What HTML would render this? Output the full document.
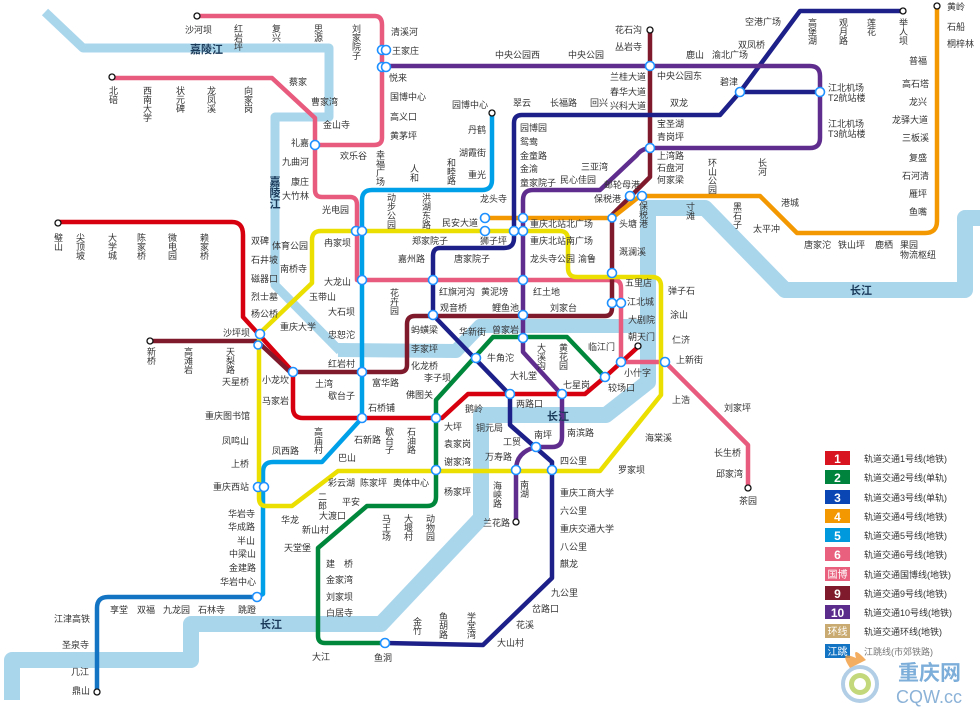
<!DOCTYPE html>
<html><head><meta charset="utf-8">
<style>
html,body{margin:0;padding:0;background:#fff;}
svg{display:block;}
text{font-family:"Liberation Sans","Noto Sans CJK SC",sans-serif;font-size:9px;fill:#333;}
.v{writing-mode:vertical-rl;}
.b{font-weight:bold;fill:#1a3a5a;font-size:11px;}
.lg{font-size:9px;fill:#333;}
.lb{font-size:12px;font-weight:bold;fill:#fff;text-anchor:middle;}
</style></head><body>
<svg width="980" height="710" viewBox="0 0 980 710" xmlns="http://www.w3.org/2000/svg">
<g fill="none" stroke="#aad6ec" stroke-linejoin="round">
<path stroke-width="9" d="M45,12 L83,48 L329,48 L329,117 L275,117 L275,285 L340,351"/>
<path stroke-width="14" d="M338,350 L456,351 L480,326 L648,326"/>
<path stroke-width="16" d="M980,218 L965,218 L965,290 L785,290 L705,208 L648,208 L648,382 L606,415 L481,415 L481,518 L381,624 L191,624 L191,660 L12,660 L12,700"/>
</g>
<g fill="none" stroke-width="4.5" stroke-linejoin="round" stroke-linecap="round">
<path stroke="#e85a7e" d="M197,16 L375,16 Q382,16 382,25 L382,138 Q382,145 374,145 L315,145 L315,190 Q315,197 322,197 L350,197 Q357,197 357,205 L357,280 L614,280 Q621,280 621,288 L621,362 L665,362 L748,445 L748,488"/>
<path stroke="#e85a7e" d="M112,78 L272,78 L315,118 L315,145"/>
<path stroke="#d7000f" d="M58,222 L232,222 Q243,222 243,235 L243,317 L293,372 L293,408 Q293,418 303,418 L442,418 L468,394 L585,394 L605,377 L638,347"/>
<path stroke="#7f1a2c" d="M150,341 L257,341 L290,372 L400,372 Q407,372 407,365 L407,324 Q407,316 415,316 L605,316 Q612,316 612,308 L612,215 L650,177 L650,30"/>
<path stroke="#f39800" d="M485,218 L612,218 L640,196 L760,196 L797,233 L925,233 Q937,233 937,221 L937,8"/>
<path stroke="#1d2088" d="M903,11 L800,11 L740,92 L720,115 L522,115 Q514,115 514,123 L514,238 Q514,248 504,248 L440,248 Q433,248 433,256 L433,315 L510,395 L510,425 L552,462 L552,578 L483,645 L385,643"/>
<path stroke="#1d2088" d="M740,92 L820,92"/>
<path stroke="#5f2d8e" d="M385,66 L810,66 Q820,66 820,76 L820,138 Q820,148 810,148 L652,148 Q642,148 637,155 L600,190 L533,190 Q523,190 523,200 L523,352 L562,395 L562,437 Q562,447 552,447 L536,447 Q516,452 516,470 L516,522"/>
<path stroke="#00873c" d="M605,377 L567,337 L493,337 L436,400 L436,497 Q436,506 427,506 L367,506 L318,548 L318,636 Q318,643 325,643 L385,643"/>
<path stroke="#00a0e9" d="M492,113 L492,180 Q492,190 482,190 L372,190 Q362,190 362,200 L362,418 L322,462 L273,462 Q263,462 263,472 L263,594 L257,597"/>
<path stroke="#1474c4" d="M257,597 L108,597 Q97,597 97,608 L97,690"/>
<path stroke="#eadf00" d="M260,333 L312,283 L312,240 Q312,231 321,231 L560,231 Q568,231 568,240 L568,268 Q568,277 577,277 L652,277 Q661,277 661,286 L661,395 L600,471 L338,471 L292,506 L266,506 Q259,506 259,498 L259,340"/>
</g>
<g fill="#fff" stroke="#1e90ff" stroke-width="1.6">
<circle cx="382" cy="50" r="4.5"/><circle cx="386" cy="50" r="4.5"/><circle cx="382" cy="67" r="4.5"/><circle cx="386" cy="67" r="4.5"/>
<circle cx="315" cy="145" r="4.5"/><circle cx="356" cy="231" r="4.5"/><circle cx="362" cy="231" r="4.5"/>
<circle cx="362" cy="280" r="4.5"/><circle cx="433" cy="280" r="4.5"/><circle cx="523" cy="280" r="4.5"/>
<circle cx="433" cy="315" r="4.5"/><circle cx="523" cy="315" r="4.5"/><circle cx="523" cy="338" r="4.5"/>
<circle cx="476" cy="358" r="4.5"/><circle cx="510" cy="394" r="4.5"/><circle cx="562" cy="394" r="4.5"/>
<circle cx="605" cy="377" r="4.5"/><circle cx="621" cy="362" r="4.5"/><circle cx="665" cy="362" r="4.5"/>
<circle cx="536" cy="447" r="4.5"/><circle cx="516" cy="470" r="4.5"/><circle cx="552" cy="470" r="4.5"/>
<circle cx="436" cy="470" r="4.5"/><circle cx="436" cy="418" r="4.5"/><circle cx="362" cy="418" r="4.5"/>
<circle cx="293" cy="372" r="4.5"/><circle cx="362" cy="372" r="4.5"/><circle cx="260" cy="334" r="4.5"/>
<circle cx="258" cy="345" r="4"/><circle cx="258" cy="487" r="4.5"/><circle cx="264" cy="487" r="4.5"/>
<circle cx="257" cy="597" r="4.5"/><circle cx="385" cy="643" r="4.5"/>
<circle cx="612" cy="218" r="4"/><circle cx="630" cy="196" r="4.5"/><circle cx="642" cy="196" r="4.5"/>
<circle cx="612" cy="273" r="4.5"/><circle cx="612" cy="303" r="4.5"/><circle cx="621" cy="303" r="4.5"/>
<circle cx="523" cy="218" r="4.5"/><circle cx="523" cy="231" r="4.5"/><circle cx="514" cy="231" r="4.5"/>
<circle cx="485" cy="218" r="4.5"/><circle cx="485" cy="231" r="4.5"/>
<circle cx="650" cy="66" r="4.5"/><circle cx="650" cy="148" r="4.5"/><circle cx="740" cy="92" r="4.5"/><circle cx="820" cy="92" r="4.5"/>
</g>
<g fill="#fff" stroke="#111" stroke-width="1.3">
<circle cx="197" cy="16" r="3"/><circle cx="112" cy="77" r="3"/><circle cx="58" cy="223" r="3"/><circle cx="150" cy="341" r="3"/>
<circle cx="650" cy="30" r="3"/><circle cx="903" cy="11" r="3"/><circle cx="937" cy="6" r="3"/><circle cx="492" cy="113" r="3"/>
<circle cx="638" cy="346" r="3"/><circle cx="748" cy="488" r="3"/><circle cx="516" cy="522" r="3"/><circle cx="97" cy="692" r="3"/>
</g>
<text x="185" y="33">沙河坝</text>
<text class="v" x="238" y="24">红岩坪</text><text class="v" x="276" y="24">复兴</text><text class="v" x="318" y="24">思源</text><text class="v" x="356" y="24">刘家院子</text>
<text x="391" y="35">清溪河</text><text x="392" y="54">王家庄</text><text x="389" y="81">悦来</text><text x="390" y="100">国博中心</text><text x="390" y="120">高义口</text><text x="390" y="139">黄茅坪</text>
<text class="b" x="190" y="53">嘉陵江</text>
<text class="v" x="113" y="86">北碚</text><text class="v" x="147" y="86">西南大学</text><text class="v" x="180" y="86">状元碑</text><text class="v" x="211" y="86">龙凤溪</text><text class="v" x="248" y="86">向家岗</text>
<text x="289" y="85">蔡家</text><text x="311" y="105">曹家湾</text><text x="323" y="128">金山寺</text><text x="291" y="146">礼嘉</text><text x="282" y="165">九曲河</text><text x="291" y="185">康庄</text><text x="282" y="199">大竹林</text>
<text class="v b" x="274" y="176">嘉陵江</text>
<text x="340" y="159">欢乐谷</text><text class="v" x="380" y="150">幸福广场</text><text class="v" x="414" y="164">人和</text><text class="v" x="451" y="158">和睦路</text><text x="468" y="178">重光</text>
<text x="452" y="108">园博中心</text><text x="468" y="133">丹鹤</text><text x="459" y="156">湖霞街</text>
<text x="322" y="213">光电园</text><text class="v" x="391" y="193">动步公园</text><text class="v" x="426" y="193">洪湖东路</text><text x="442" y="226">民安大道</text><text x="480" y="202">龙头寺</text>
<text x="412" y="244">郑家院子</text><text x="480" y="244">狮子坪</text><text x="398" y="262">嘉州路</text><text x="454" y="262">唐家院子</text>
<text x="324" y="246">冉家坝</text><text x="251" y="244">双碑</text><text x="272" y="249">体育公园</text><text x="251" y="263">石井坡</text><text x="280" y="272">南桥寺</text>
<text x="251" y="282">磁器口</text><text x="324" y="285">大龙山</text><text x="251" y="300">烈士墓</text><text x="309" y="300">玉带山</text><text x="328" y="315">大石坝</text>
<text x="251" y="317">杨公桥</text><text x="280" y="330">重庆大学</text><text x="328" y="338">忠恕沱</text><text x="223" y="336">沙坪坝</text>
<text class="v" x="394" y="288">花卉园</text><text x="439" y="295">红旗河沟</text><text x="481" y="295">黄泥塝</text><text x="533" y="295">红土地</text>
<text x="440" y="311">观音桥</text><text x="492" y="311">鲤鱼池</text><text x="550" y="311">刘家台</text>
<text x="411" y="333">蚂蟥梁</text><text x="459" y="335">华新街</text><text x="492" y="333">曾家岩</text><text x="411" y="352">李家坪</text><text x="487" y="361">牛角沱</text>
<text x="411" y="369">化龙桥</text><text x="424" y="381">李子坝</text><text x="406" y="398">佛图关</text>
<text x="328" y="367">红岩村</text><text x="315" y="387">土湾</text><text x="372" y="386">富华路</text><text x="328" y="399">歇台子</text><text x="368" y="411">石桥铺</text>
<text x="262" y="383">小龙坎</text><text x="262" y="404">马家岩</text><text x="222" y="385">天星桥</text>
<text class="v" x="151" y="347">新桥</text><text class="v" x="188" y="347">高滩岩</text><text class="v" x="230" y="347">天梨路</text>
<text class="v" x="58" y="233">璧山</text><text class="v" x="80" y="233">尖顶坡</text><text class="v" x="112" y="233">大学城</text><text class="v" x="141" y="233">陈家桥</text><text class="v" x="172" y="233">微电园</text><text class="v" x="204" y="233">赖家桥</text>
<text x="205" y="419">重庆图书馆</text><text x="222" y="444">凤鸣山</text><text x="231" y="467">上桥</text><text x="213" y="490">重庆西站</text>
<text x="228" y="517">华岩寺</text><text x="228" y="530">华成路</text><text x="237" y="544">半山</text><text x="229" y="557">中梁山</text><text x="229" y="571">金建路</text><text x="220" y="585">华岩中心</text>
<text x="110" y="613">享堂</text><text x="137" y="613">双福</text><text x="163" y="613">九龙园</text><text x="198" y="613">石林寺</text><text x="238" y="613">跳蹬</text>
<text x="54" y="622">江津高铁</text><text x="62" y="648">圣泉寺</text><text x="71" y="675">几江</text><text x="72" y="694">鼎山</text>
<text class="b" x="260" y="628">长江</text>
<text class="v" x="318" y="427">高庙村</text><text x="272" y="454">凤西路</text><text x="354" y="443">石新路</text><text x="338" y="461">巴山</text><text class="v" x="389" y="427">歇台子</text><text class="v" x="411" y="427">石油路</text>
<text x="328" y="486">彩云湖</text><text x="360" y="486">陈家坪</text><text x="393" y="486">奥体中心</text><text class="v" x="322" y="492">二郎</text><text x="342" y="505">平安</text>
<text x="281" y="523">华龙</text><text x="319" y="519">大渡口</text><text x="302" y="533">新山村</text><text class="v" x="386" y="514">马王场</text><text class="v" x="408" y="514">大堰村</text><text class="v" x="430" y="514">动物园</text>
<text x="284" y="551">天堂堡</text><text x="326" y="567">建　桥</text><text x="326" y="583">金家湾</text><text x="326" y="600">刘家坝</text><text x="326" y="616">白居寺</text>
<text x="312" y="660">大江</text><text x="374" y="661">鱼洞</text><text class="v" x="417" y="617">金竹</text><text class="v" x="443" y="612">鱼胡路</text><text class="v" x="471" y="612">学堂湾</text>
<text x="497" y="646">大山村</text><text x="516" y="628">花溪</text><text x="532" y="612">岔路口</text><text x="551" y="596">九公里</text><text x="560" y="567">麒龙</text><text x="560" y="550">八公里</text><text x="560" y="532">重庆交通大学</text><text x="560" y="514">六公里</text><text x="560" y="496">重庆工商大学</text><text x="560" y="464">四公里</text>
<text class="v" x="524" y="480">南湖</text><text class="v" x="497" y="481">海峡路</text><text x="483" y="526">兰花路</text><text x="485" y="460">万寿路</text><text x="503" y="445">工贸</text><text x="534" y="438">南坪</text><text x="567" y="436">南滨路</text>
<text x="476" y="431">铜元局</text><text x="444" y="430">大坪</text><text x="444" y="447">袁家岗</text><text x="444" y="465">谢家湾</text><text x="444" y="495">杨家坪</text><text x="465" y="412">鹅岭</text>
<text x="516" y="407">两路口</text><text class="b" x="547" y="420">长江</text><text x="510" y="379">大礼堂</text><text x="563" y="388">七星岗</text><text x="608" y="391">较场口</text><text x="624" y="376">小什字</text>
<text class="v" x="541" y="343">大溪沟</text><text class="v" x="563" y="343">黄花园</text><text x="588" y="350">临江门</text><text x="676" y="363">上新街</text><text x="672" y="403">上浩</text><text x="645" y="441">海棠溪</text><text x="618" y="473">罗家坝</text>
<text x="724" y="411">刘家坪</text><text x="714" y="456">长生桥</text><text x="716" y="477">邱家湾</text><text x="739" y="504">茶园</text>
<text x="628" y="340">朝天门</text><text x="628" y="323">大剧院</text><text x="627" y="305">江北城</text><text x="625" y="286">五里店</text>
<text x="668" y="294">弹子石</text><text x="670" y="318">涂山</text><text x="672" y="343">仁济</text><text x="619" y="255">溉澜溪</text><text x="619" y="227">头塘</text>
<text class="v" x="643" y="201">保税港</text><text class="v" x="690" y="202">寸滩</text><text class="v" x="737" y="202">黑石子</text><text x="753" y="232">太平冲</text><text x="781" y="206">港城</text>
<text x="804" y="248">唐家沱</text><text x="838" y="248">铁山坪</text><text x="875" y="248">鹿栖</text><text x="900" y="248">果园</text><text x="900" y="258">物流枢纽</text>
<text x="947" y="10">黄岭</text><text x="947" y="30">石船</text><text x="947" y="47">桐梓林</text><text x="909" y="64">普福</text><text x="902" y="87">高石塔</text><text x="909" y="105">龙兴</text><text x="892" y="123">龙驿大道</text><text x="902" y="141">三板溪</text><text x="909" y="161">复盛</text><text x="902" y="179">石河清</text><text x="909" y="197">雁坪</text><text x="909" y="215">鱼嘴</text>
<text x="745" y="25">空港广场</text><text class="v" x="812" y="18">高堡湖</text><text class="v" x="843" y="18">观月路</text><text class="v" x="871" y="18">莲花</text><text class="v" x="903" y="18">举人坝</text>
<text x="738" y="48">双凤桥</text><text x="712" y="58">渝北广场</text><text x="686" y="58">鹿山</text><text x="720" y="85">碧津</text>
<text x="828" y="91">江北机场</text><text x="828" y="101">T2航站楼</text><text x="828" y="127">江北机场</text><text x="828" y="137">T3航站楼</text>
<text class="v" x="762" y="158">长河</text><text class="v" x="712" y="158">环山公园</text>
<text x="615" y="33">花石沟</text><text x="615" y="50">丛岩寺</text><text x="495" y="58">中央公园西</text><text x="568" y="58">中央公园</text><text x="657" y="79">中央公园东</text>
<text x="610" y="80">兰桂大道</text><text x="610" y="95">春华大道</text><text x="610" y="109">兴科大道</text><text x="670" y="106">双龙</text>
<text x="513" y="106">翠云</text><text x="550" y="106">长福路</text><text x="590" y="106">回兴</text>
<text x="657" y="127">宝圣湖</text><text x="657" y="140">青岗坪</text><text x="657" y="159">上湾路</text><text x="657" y="171">石盘河</text><text x="657" y="183">何家梁</text>
<text x="581" y="170">三亚湾</text><text x="560" y="183">民心佳园</text><text x="604" y="188">邮轮母港</text><text x="594" y="202">保税港</text>
<text x="520" y="131">园博园</text><text x="520" y="145">鸳鸯</text><text x="520" y="159">金童路</text><text x="520" y="172">金渝</text><text x="520" y="186">童家院子</text>
<text x="530" y="227">重庆北站北广场</text><text x="530" y="244">重庆北站南广场</text><text x="530" y="262">龙头寺公园</text><text x="578" y="262">渝鲁</text>
<text class="b" x="850" y="294">长江</text>
<g>
<rect x="825" y="451" width="25" height="14" fill="#d7141f"/><text class="lb" x="837.5" y="463">1</text><text class="lg" x="864" y="462">轨道交通1号线(地铁)</text>
<rect x="825" y="470" width="25" height="14" fill="#00843d"/><text class="lb" x="837.5" y="482">2</text><text class="lg" x="864" y="481">轨道交通2号线(单轨)</text>
<rect x="825" y="490" width="25" height="14" fill="#0a47b4"/><text class="lb" x="837.5" y="502">3</text><text class="lg" x="864" y="501">轨道交通3号线(单轨)</text>
<rect x="825" y="509" width="25" height="14" fill="#f39800"/><text class="lb" x="837.5" y="521">4</text><text class="lg" x="864" y="520">轨道交通4号线(地铁)</text>
<rect x="825" y="528" width="25" height="14" fill="#0099dd"/><text class="lb" x="837.5" y="540">5</text><text class="lg" x="864" y="539">轨道交通5号线(地铁)</text>
<rect x="825" y="547" width="25" height="14" fill="#e8607e"/><text class="lb" x="837.5" y="559">6</text><text class="lg" x="864" y="558">轨道交通6号线(地铁)</text>
<rect x="825" y="567" width="25" height="14" fill="#e8607e"/><text class="lb" x="837.5" y="578" style="font-size:10px;font-weight:normal">国博</text><text class="lg" x="864" y="578">轨道交通国博线(地铁)</text>
<rect x="825" y="586" width="25" height="14" fill="#7f1a2c"/><text class="lb" x="837.5" y="598">9</text><text class="lg" x="864" y="597">轨道交通9号线(地铁)</text>
<rect x="825" y="605" width="25" height="14" fill="#5b2c8c"/><text class="lb" x="837.5" y="617">10</text><text class="lg" x="864" y="616">轨道交通10号线(地铁)</text>
<rect x="825" y="624" width="25" height="14" fill="#c9aa70"/><text class="lb" x="837.5" y="635" style="font-size:10px;font-weight:normal">环线</text><text class="lg" x="864" y="635">轨道交通环线(地铁)</text>
<rect x="825" y="644" width="25" height="14" fill="#1474c4"/><text class="lb" x="837.5" y="655" style="font-size:10px;font-weight:normal">江跳</text><text class="lg" x="864" y="655" style="fill:#777">江跳线(市郊铁路)</text>
</g>
<g opacity="0.8">
<circle cx="860" cy="684" r="17" fill="none" stroke="#9fc3e0" stroke-width="4"/>
<circle cx="860" cy="684" r="11" fill="#b5cf5a"/>
<circle cx="860" cy="684" r="6" fill="#fff"/>
<path d="M850,668 Q838,650 856,658 Q852,645 866,660 Z" fill="#f29a3c"/>
<text x="898" y="680" style="font-size:21px;font-weight:bold;fill:#5d9bd2">重庆网</text>
<text x="896" y="703" style="font-size:18px;fill:#6f9fce">CQW.cc</text>
</g>
</svg>
</body></html>
